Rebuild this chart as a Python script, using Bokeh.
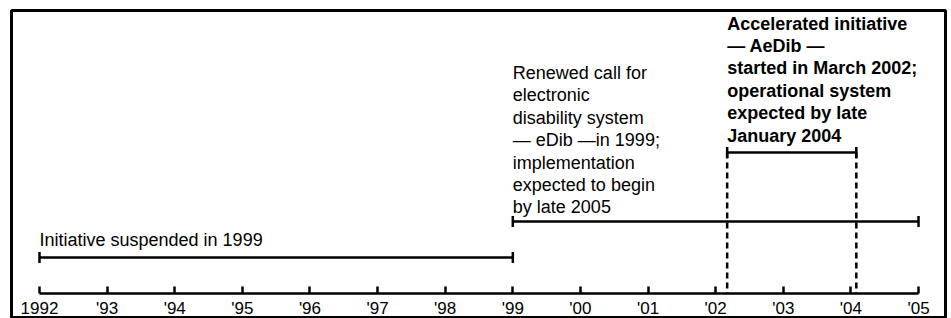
from bokeh.plotting import figure
from bokeh.models import Range1d, LinearAxis, FixedTicker
from bokeh.core.properties import value
from bokeh.embed import file_html
from bokeh.resources import INLINE

# ---- data ----
years = list(range(1992, 2006))
tick_labels = ["1992", "'93", "'94", "'95", "'96", "'97", "'98", "'99",
               "'00", "'01", "'02", "'03", "'04", "'05"]

phase_names = ["Initiative suspended", "eDib", "AeDib"]
phase_start = [1992.0, 1999.0, 2002.17]   # March 2002
phase_end = [1999.0, 2005.0, 2004.08]     # late January 2004

label_suspended = ["Initiative suspended in 1999"]
label_edib = ["Renewed call for", "electronic", "disability system",
              "\u2014 eDib \u2014in 1999;", "implementation",
              "expected to begin", "by late 2005"]
label_aedib = ["Accelerated initiative", "\u2014 AeDib \u2014",
               "started in March 2002;", "operational system",
               "expected by late", "January 2004"]

# ---- layout (screen-like vertical coordinates) ----
lane_y = [257, 221, 152]
axis_y = 292.5
cap = 5.5
line_step = 22.4
text_shift = -7.0
FONT = "Liberation Sans"

p = figure(width=951, height=318,
           x_range=Range1d(1991.586, 2005.399), y_range=Range1d(318, 10),
           x_axis_type=None, y_axis_type=None,
           toolbar_location=None, output_backend="svg",
           min_border_left=11, min_border_right=6, min_border_top=10, min_border_bottom=0)
p.outline_line_color = "black"
p.outline_line_width = 3
p.outline_line_alpha = 1.0
p.background_fill_color = "white"
p.border_fill_color = "white"

ax = LinearAxis(fixed_location=axis_y, bounds=(1992, 2005),
                ticker=FixedTicker(ticks=years),
                major_label_overrides={y: l for y, l in zip(years, tick_labels)},
                major_tick_in=7, major_tick_out=0,
                minor_tick_in=0, minor_tick_out=0,
                axis_line_width=2.5, axis_line_color="black",
                major_tick_line_width=2.5, major_tick_line_color="black",
                major_label_text_font=FONT, major_label_text_font_size="17px",
                major_label_text_color="black", major_label_standoff=6)
p.add_layout(ax, "below")

# bars
p.segment(x0=phase_start, y0=lane_y, x1=phase_end, y1=lane_y,
          line_width=2.5, line_color="black")
# end caps
cap_x = phase_start + phase_end
cap_y = lane_y + lane_y
p.segment(x0=cap_x, y0=[y - cap for y in cap_y], x1=cap_x, y1=[y + cap for y in cap_y],
          line_width=2.5, line_color="black")
# dashed drop lines for AeDib
p.segment(x0=[phase_start[2], phase_end[2]], y0=[lane_y[2]] * 2,
          x1=[phase_start[2], phase_end[2]], y1=[axis_y] * 2,
          line_width=2.5, line_color="black", line_dash="6 4")

# annotations
p.text(x=[phase_start[0]], y=[246.5 + text_shift], text=label_suspended,
       text_font=value(FONT), text_font_size="18px", text_color="black",
       text_baseline="alphabetic", text_align="left")
p.text(x=[phase_start[1]] * len(label_edib),
       y=[79.5 + text_shift + i * line_step for i in range(len(label_edib))], text=label_edib,
       text_font=value(FONT), text_font_size="18px", text_color="black",
       text_baseline="alphabetic", text_align="left")
p.text(x=[phase_start[2]] * len(label_aedib),
       y=[30.0 + text_shift + i * line_step for i in range(len(label_aedib))], text=label_aedib,
       text_font=value(FONT), text_font_size="18px", text_font_style="bold",
       text_color="black", text_baseline="alphabetic", text_align="left")

open("out.html", "w").write(file_html(p, INLINE))
